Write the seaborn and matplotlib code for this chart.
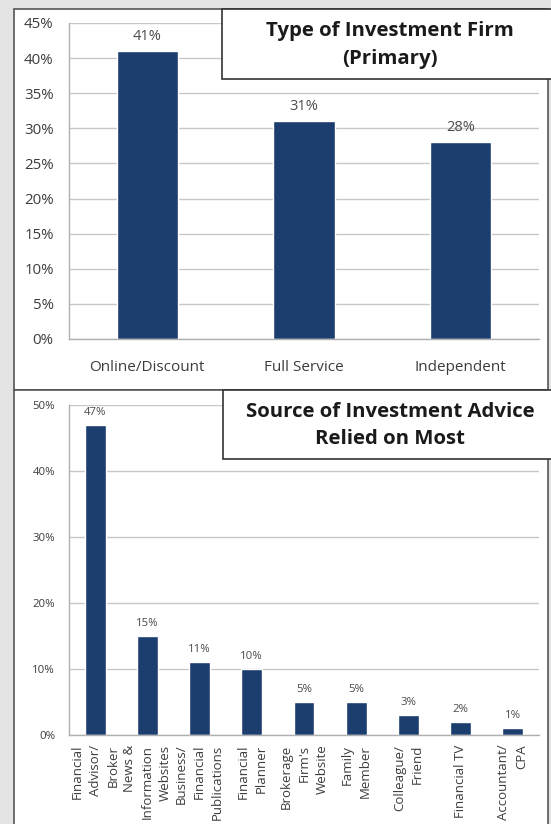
import matplotlib
matplotlib.use("Agg")
import matplotlib.pyplot as plt
import seaborn as sns
import pandas as pd
from matplotlib.patches import Rectangle
from matplotlib.ticker import FixedLocator

# ---- data ----
firm_types = ["Online/Discount", "Full Service", "Independent"]
firm_pct = [41, 31, 28]
firm_title = "Type of Investment Firm\n(Primary)"

advice_sources = ["Financial\nAdvisor/\nBroker", "News &\nInformation\nWebsites",
                  "Business/\nFinancial\nPublications", "Financial\nPlanner",
                  "Brokerage\nFirm's\nWebsite", "Family\nMember", "Colleague/\nFriend",
                  "Financial TV", "Accountant/\nCPA"]
advice_pct = [47, 15, 11, 10, 5, 5, 3, 2, 1]
advice_title = "Source of Investment Advice\nRelied on Most"

top_ticks = [0, 5, 10, 15, 20, 25, 30, 35, 40, 45]
bottom_ticks = [0, 10, 20, 30, 40, 50]

sns.set_style("white")
plt.rcParams['font.family'] = ['Open Sans', 'DejaVu Sans']

W, H = 551, 824
fig = plt.figure(figsize=(W / 100, H / 100), dpi=100, facecolor="#e4e4e4")

BAR = "#1b3e6f"
GRID = "#c8c8c8"
TXT = "#3c3c3c"

def fx(x):
    return x / W

def fy(y):
    return 1 - y / H

# panel backgrounds
fig.patches.append(Rectangle((fx(14), fy(390)), fx(548 - 14), (390 - 9) / H,
                             transform=fig.transFigure, facecolor="white",
                             edgecolor="#555555", lw=1.2, zorder=-5))
fig.patches.append(Rectangle((fx(14), fy(830)), fx(548 - 14), (830 - 390) / H,
                             transform=fig.transFigure, facecolor="white",
                             edgecolor="#555555", lw=1.2, zorder=-5))

def make_axes(x0, x1, ytop, ybot):
    ax = fig.add_axes([fx(x0), fy(ybot), fx(x1 - x0), (ybot - ytop) / H])
    ax.set_zorder(1)
    return ax

def style_axes(ax, n, ticks, fs):
    ax.set_facecolor("none")
    ax.set_xlim(-0.5, n - 0.5)
    ax.set_ylim(0, ticks[-1])
    ax.yaxis.set_major_locator(FixedLocator(ticks))
    ax.set_yticklabels([f"{t}%" for t in ticks], fontsize=fs, color=TXT)
    ax.grid(axis="y", color=GRID, lw=1.0)
    ax.set_axisbelow(True)
    for s in ["top", "right"]:
        ax.spines[s].set_visible(False)
    for s in ["left", "bottom"]:
        ax.spines[s].set_color("#b0b0b0")
        ax.spines[s].set_linewidth(1.0)
    ax.tick_params(axis="y", length=4, color="#b0b0b0", pad=6)
    ax.xaxis.set_minor_locator(FixedLocator([i - 0.5 for i in range(n + 1)]))
    ax.tick_params(axis="x", which="major", length=0)
    ax.tick_params(axis="x", which="minor", length=4, color="#b0b0b0")
    ax.set_xlabel("")
    ax.set_ylabel("")

# ---- top chart ----
ax1 = make_axes(69, 539, 23, 339)
df1 = pd.DataFrame({"type": firm_types, "pct": firm_pct})
sns.barplot(data=df1, x="type", y="pct", color=BAR, saturation=1, width=0.39, ax=ax1)
style_axes(ax1, len(firm_types), top_ticks, 10.8)
ax1.tick_params(axis="y", pad=7)
ax1.tick_params(axis="x", labelsize=11, labelcolor=TXT, pad=15)
for i, v in enumerate(firm_pct):
    ax1.annotate(f"{v}%", (i, v), xytext=(0, 5), textcoords="offset points",
                 ha="center", va="bottom", fontsize=10.5, color="#4a4a4a")

# ---- bottom chart ----
ax2 = make_axes(69, 539, 405, 735)
df2 = pd.DataFrame({"src": advice_sources, "pct": advice_pct})
sns.barplot(data=df2, x="src", y="pct", color=BAR, saturation=1, width=0.4, ax=ax2)
style_axes(ax2, len(advice_sources), bottom_ticks, 8.2)
ax2.set_xticks(range(len(advice_sources)))
ax2.set_xticklabels(advice_sources, rotation=90, ha="center", va="top",
                    multialignment="right", fontsize=9.5, color=TXT, linespacing=1.5)
ax2.tick_params(axis="x", pad=7)
for i, v in enumerate(advice_pct):
    ax2.annotate(f"{v}%", (i, v), xytext=(0, 5), textcoords="offset points",
                 ha="center", va="bottom", fontsize=8.2, color="#4a4a4a")

# ---- title boxes ----
def title_box(x0, y0, x1, y1, text):
    fig.patches.append(Rectangle((fx(x0), fy(y1)), fx(x1 - x0), (y1 - y0) / H,
                                 transform=fig.transFigure, facecolor="white",
                                 edgecolor="#333333", lw=1.2, zorder=5))
    fig.text(fx((x0 + x1) / 2 + 2), fy((y0 + y1) / 2 + 1), text, ha="center", va="center",
             fontsize=14.7, fontweight="bold", color="#1a1a1a", linespacing=1.5,
             zorder=6)

title_box(222, 9, 553, 79, firm_title)
title_box(223, 390, 553, 459, advice_title)

fig.savefig("out.png", dpi=100, facecolor=fig.get_facecolor())
